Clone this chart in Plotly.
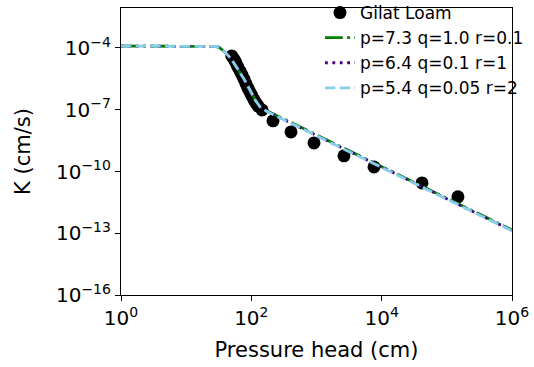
import plotly.graph_objects as go

# Measured data (Gilat Loam)
h_data = [50, 54, 58, 62, 67, 72, 77, 83, 89, 95, 102, 110, 118, 127, 146,
          215, 406, 915, 2640, 7630, 41600, 148000]
K_data = [4.1e-5, 2.9e-5, 1.9e-5, 1.2e-5, 7.6e-6, 4.9e-6, 3.1e-6, 1.8e-6, 1.1e-6,
          7.3e-7, 4.7e-7, 3.0e-7, 2.1e-7, 1.5e-7, 9.8e-8,
          2.9e-8, 8.4e-9, 2.45e-9, 5.75e-10, 1.67e-10, 2.8e-11, 5.85e-12]

# Model curves
h_curve = [1, 25.8, 29.5, 33, 40.8, 50.5, 62.4, 77.1, 95.3, 114, 136, 168, 208, 392,
           3000, 30000, 300000, 1e6]
K_green = [1.25e-4, 1.25e-4, 1.18e-4, 1.0e-4, 5.7e-5, 2.6e-5, 9.6e-6, 3.1e-6, 9.1e-7,
           3.1e-7, 1.45e-7, 9.4e-8, 6.8e-8, 2.5e-8, 1.1e-9, 3.2e-11, 9.2e-13, 1.45e-13]
K_purple = [1.25e-4, 1.25e-4, 1.18e-4, 1.0e-4, 5.7e-5, 2.6e-5, 9.6e-6, 3.1e-6, 9.1e-7,
            3.0e-7, 1.4e-7, 9.0e-8, 6.4e-8, 2.35e-8, 1.05e-9, 3.0e-11, 8.6e-13, 1.36e-13]
K_blue = [1.25e-4, 1.25e-4, 1.18e-4, 1.0e-4, 5.7e-5, 2.6e-5, 9.6e-6, 3.1e-6, 9.1e-7,
          3.0e-7, 1.37e-7, 8.75e-8, 6.25e-8, 2.29e-8, 1.0e-9, 2.9e-11, 8.3e-13, 1.31e-13]

labels = ["Gilat Loam", "p=7.3 q=1.0 r=0.1", "p=6.4 q=0.1 r=1", "p=5.4 q=0.05 r=2"]

x_tickvals = [1, 1e2, 1e4, 1e6]
x_ticktext = ["10<sup>0</sup>", "10<sup>2</sup>", "10<sup>4</sup>", "10<sup>6</sup>"]
y_tickvals = [1e-16, 1e-13, 1e-10, 1e-7, 1e-4]
y_ticktext = ["10<sup>\u221216</sup>", "10<sup>\u221213</sup>", "10<sup>\u221210</sup>",
              "10<sup>\u22127</sup>", "10<sup>\u22124</sup>"]

fig = go.Figure()
fig.add_trace(go.Scatter(x=h_data, y=K_data, mode="markers", name=labels[0],
                         marker=dict(color="black", size=13)))
fig.add_trace(go.Scatter(x=h_curve, y=K_green, mode="lines", name=labels[1],
                         line=dict(color="green", width=2.8, dash="17.8px,4.4px,2.8px,4.4px")))
fig.add_trace(go.Scatter(x=h_curve, y=K_purple, mode="lines", name=labels[2],
                         line=dict(color="indigo", width=2.8, dash="2.8px,4.6px")))
fig.add_trace(go.Scatter(x=h_curve, y=K_blue, mode="lines", name=labels[3],
                         line=dict(color="skyblue", width=2.8, dash="10.3px,4.4px")))

font = "DejaVu Sans"
# plot area: x 121..512, y 8..295 in a 534x367 page
fig.update_layout(
    width=534, height=367,
    margin=dict(l=121, r=0, t=0, b=72, autoexpand=False),
    paper_bgcolor="white", plot_bgcolor="white",
    font=dict(family=font, size=19, color="black"),
    showlegend=True,
    legend=dict(x=(320 - 121) / 413, y=1.017, xanchor="left", yanchor="top",
                bgcolor="rgba(0,0,0,0)", font=dict(size=17, family=font),
                itemwidth=30, tracegroupgap=0),
    xaxis=dict(type="log", range=[0, 6], domain=[0, 391 / 413], automargin=False,
               tickvals=x_tickvals, ticktext=x_ticktext,
               showgrid=False, zeroline=False, showline=True, mirror=True,
               linecolor="black", linewidth=1.1, ticks="outside", ticklen=5,
               tickwidth=1.1, tickcolor="black", tickfont=dict(size=20),
               title=dict(text="Pressure head (cm)", font=dict(size=21), standoff=13)),
    yaxis=dict(type="log", range=[-16, -2.057], domain=[0, 287 / 295], automargin=False,
               tickvals=y_tickvals, ticktext=y_ticktext,
               showgrid=False, zeroline=False, showline=True, mirror=True,
               linecolor="black", linewidth=1.1, ticks="outside", ticklen=5,
               tickwidth=1.1, tickcolor="black", tickfont=dict(size=20),
               title=dict(text="K (cm/s)", font=dict(size=21), standoff=19)),
)

fig.write_html("out.html", config={"displayModeBar": False},
               post_script="document.body.style.margin='0px';")
